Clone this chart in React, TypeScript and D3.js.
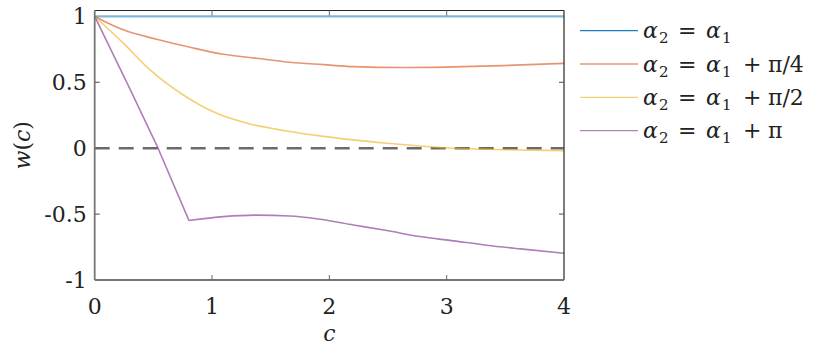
import React from "react";
import * as d3 from "d3";

// values
const cBlue = [0, 4];
const wBlue = [1, 1];

const cOrange = [0, 0.244, 0.528, 0.812, 1.097, 1.38, 1.665, 1.95, 2.205, 2.63, 3.06, 3.48, 4];
const wOrange = [1, 0.898, 0.827, 0.766, 0.713, 0.683, 0.652, 0.634, 0.619, 0.612, 0.617, 0.627, 0.644];

const cYellow = [0, 0.244, 0.472, 0.755, 1.04, 1.324, 1.637, 1.95, 2.205, 2.49, 2.77, 3.06, 3.34, 3.63, 4];
const wYellow = [1, 0.797, 0.594, 0.404, 0.265, 0.184, 0.131, 0.09, 0.063, 0.038, 0.017, 0.0, -0.008, -0.013, -0.018];

const cPurple = [0, 0.3, 0.54, 0.804, 1.097, 1.38, 1.665, 1.92, 2.205, 2.49, 2.77, 3.06, 3.34, 3.63, 4];
const wPurple = [1, 0.45, 0, -0.549, -0.519, -0.508, -0.514, -0.539, -0.582, -0.625, -0.67, -0.703, -0.736, -0.764, -0.797];
// index of the sharp corner in the purple curve
const purpleKink = 3;

const xTicks = [0, 1, 2, 3, 4];
const yTicks = [-1, -0.5, 0, 0.5, 1];
const yTickLabels = ["-1", "-0.5", "0", "0.5", "1"];

const legendSuffix = ["", "π/4", "π/2", "π"];
const colors = ["#0072BD", "#D95319", "#EDB120", "#7E2F8E"];

const W = 830;
const H = 355;
const margin = { left: 94.7, right: 266, top: 10.5, bottom: 75 };
const FONT = "DejaVu Serif";

export default function App() {
  const x = d3.scaleLinear().domain([0, 4]).range([margin.left, W - margin.right]);
  const y = d3.scaleLinear().domain([-1, 1.045]).range([H - margin.bottom, margin.top]);

  const smooth = d3
    .line<[number, number]>()
    .x((d) => x(d[0]))
    .y((d) => y(d[1]))
    .curve(d3.curveMonotoneX);
  const straight = d3
    .line<[number, number]>()
    .x((d) => x(d[0]))
    .y((d) => y(d[1]));

  const pts = (c: number[], w: number[]) => c.map((v, k) => [v, w[k]] as [number, number]);
  const purplePts = pts(cPurple, wPurple);

  const paths = [
    smooth(pts(cBlue, wBlue)) || "",
    smooth(pts(cOrange, wOrange)) || "",
    smooth(pts(cYellow, wYellow)) || "",
    (straight(purplePts.slice(0, purpleKink + 1)) || "") +
      (smooth(purplePts.slice(purpleKink)) || ""),
  ];

  const x0 = x(0);
  const x1 = x(4);
  const yTop = y(1.045);
  const yBot = y(-1);
  const tickLen = 5;
  const lx = 643; // legend text start

  return (
    <svg
      width={W}
      height={H}
      style={{ position: "absolute", left: 0, top: 0, background: "#fff" }}
      fontFamily={FONT}
      fontSize={22}
      fill="#222"
    >
      {/* zero line */}
      <line
        x1={x0}
        x2={x1}
        y1={y(0)}
        y2={y(0)}
        stroke="#6b6b6b"
        strokeWidth={2.5}
        strokeDasharray="15 9"
      />

      {/* series */}
      {paths.map((d, i) => (
        <path
          key={i}
          d={d}
          fill="none"
          stroke={colors[i]}
          strokeOpacity={i === 0 ? 0.5 : 0.62}
          strokeWidth={i === 0 ? 2.2 : 1.6}
          strokeLinejoin="round"
        />
      ))}

      {/* axes box */}
      <line x1={x0} x2={x1} y1={yTop} y2={yTop} stroke="#262626" strokeWidth={1} />
      <line x1={x1} x2={x1} y1={yTop} y2={yBot} stroke="#262626" strokeWidth={1.2} />
      <line x1={x0} x2={x1} y1={yBot} y2={yBot} stroke="#777" strokeWidth={1.8} />
      <line x1={x0} x2={x0} y1={yTop} y2={yBot} stroke="#777" strokeWidth={1.8} />

      {/* ticks */}
      {xTicks.slice(1, -1).map((t) => (
        <g key={"xt" + t} stroke="#666" strokeWidth={1}>
          <line x1={x(t)} x2={x(t)} y1={yBot} y2={yBot - tickLen} />
          <line x1={x(t)} x2={x(t)} y1={yTop} y2={yTop + tickLen} />
        </g>
      ))}
      {yTicks.slice(1, -1).map((t) => (
        <g key={"yt" + t} stroke="#666" strokeWidth={1.2}>
          <line x1={x0} x2={x0 + tickLen} y1={y(t)} y2={y(t)} />
          <line x1={x1} x2={x1 - tickLen} y1={y(t)} y2={y(t)} />
        </g>
      ))}

      {/* tick labels */}
      {xTicks.map((t) => (
        <text key={"xl" + t} x={x(t)} y={314} textAnchor="middle">
          {t}
        </text>
      ))}
      {yTicks.map((t, i) => (
        <text key={"yl" + t} x={x0 - 8} y={y(t) + 8} textAnchor="end">
          {yTickLabels[i]}
        </text>
      ))}

      {/* axis labels */}
      <text x={x(2)} y={341} textAnchor="middle" fontStyle="italic">
        c
      </text>
      <text transform={`translate(30,${(yTop + yBot) / 2}) rotate(-90)`} textAnchor="middle">
        <tspan fontStyle="italic">w</tspan>(<tspan fontStyle="italic">c</tspan>)
      </text>

      {/* legend */}
      {colors.map((col, i) => {
        const ly = 30.7 + i * 33.3;
        const base = ly + 7.5;
        return (
          <g key={"lg" + i}>
            <line
              x1={580}
              x2={638}
              y1={ly}
              y2={ly}
              stroke={col}
              strokeOpacity={i === 0 ? 0.9 : 0.6}
              strokeWidth={1.3}
            />
            <text y={base}>
              <tspan x={lx} fontStyle="italic">α</tspan>
              <tspan x={lx + 16} y={base + 5} fontSize={15}>2</tspan>
              <tspan x={lx + 35} y={base}>=</tspan>
              <tspan x={lx + 63} fontStyle="italic">α</tspan>
              <tspan x={lx + 79} y={base + 5} fontSize={15}>1</tspan>
              {legendSuffix[i] && (
                <>
                  <tspan x={lx + 100} y={base}>+</tspan>
                  <tspan x={lx + 125}>{legendSuffix[i]}</tspan>
                </>
              )}
            </text>
          </g>
        );
      })}
    </svg>
  );
}
